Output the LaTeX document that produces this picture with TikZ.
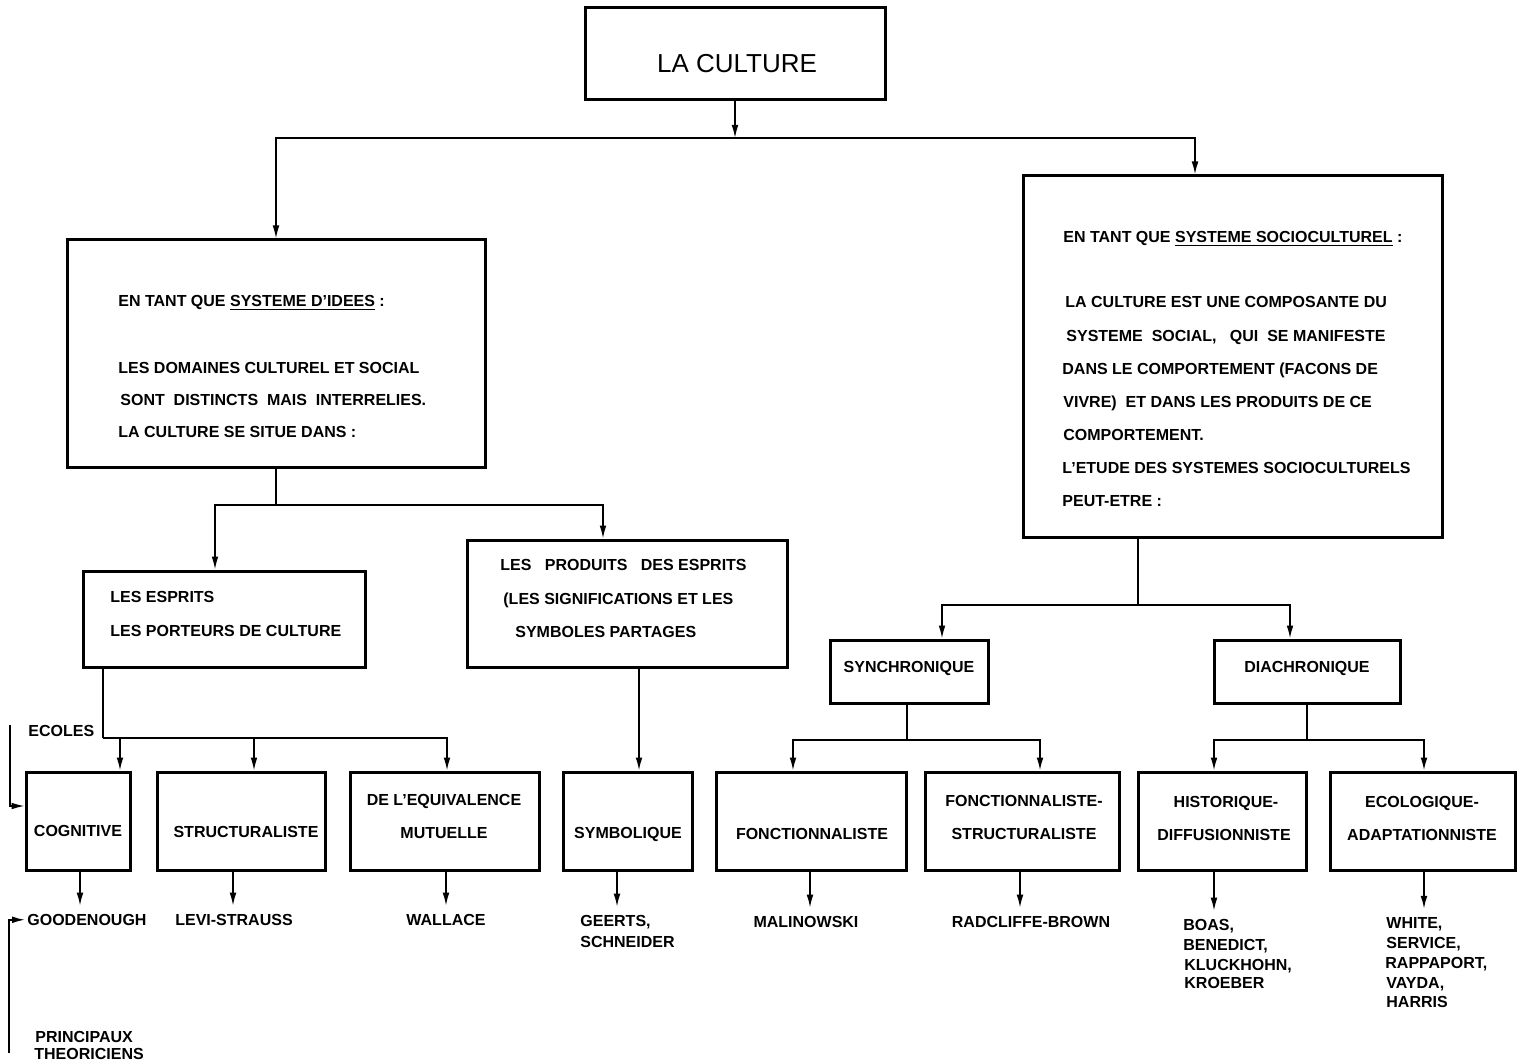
\documentclass[tikz,border=0pt]{standalone}
\usepackage{fontspec}
\setmainfont{Liberation Sans}
\usetikzlibrary{arrows.meta,fit}
\tikzset{
  x=0.5pt, y=-0.5pt,
  box/.style={draw, line width=1.5pt, inner sep=0pt},
  conn/.style={line width=0.8pt},
  arr/.style={conn, -{Latex[length=6.5pt,width=3.4pt]}},
  tl/.style={font=\fontsize{8}{10}\selectfont\bfseries, inner sep=0pt, anchor=mid west},
  tc/.style={font=\fontsize{8}{10}\selectfont\bfseries, inner sep=0pt, anchor=mid},
}
\begin{document}
\begin{tikzpicture}
\useasboundingbox[fill=white] (0,0) rectangle (1522,1064);

% ---------- boxes ----------
\node[box, fit={(585,8) (885,100)}] (culture) {};
\node[box, fit={(67,240) (485,467)}] (idees) {};
\node[box, fit={(1023,176) (1442,537)}] (socio) {};
\node[box, fit={(83,571) (365,667)}] (esprits) {};
\node[box, fit={(467,540) (787,667)}] (produits) {};
\node[box, fit={(830,640) (988,703)}] (synch) {};
\node[box, fit={(1214,640) (1400,703)}] (diach) {};
\node[box, fit={(26,772) (130,870)}] (cog) {};
\node[box, fit={(157,772) (325,870)}] (struct) {};
\node[box, fit={(350,772) (539,870)}] (equiv) {};
\node[box, fit={(563,772) (692,870)}] (symb) {};
\node[box, fit={(716,772) (906,870)}] (fonct) {};
\node[box, fit={(925,772) (1119,870)}] (fstruct) {};
\node[box, fit={(1138,772) (1306,870)}] (hist) {};
\node[box, fit={(1330,772) (1515,870)}] (ecol) {};

% ---------- texts in boxes ----------
\node[font=\fontsize{13}{15}\selectfont, inner sep=0pt, anchor=mid] (tculture) at (737,67) {LA CULTURE};

\node[tl] (i1) at (118,301) {EN TANT QUE \underline{SYSTEME D'IDEES} :};
\node[tl] (i2) at (118,368) {LES DOMAINES CULTUREL ET SOCIAL};
\node[tl] (i3) at (120,400) {SONT\ \ DISTINCTS\ \ MAIS\ \ INTERRELIES.};
\node[tl] (i4) at (118,432) {LA CULTURE SE SITUE DANS :};

\node[tl] (s1) at (1063,237) {EN TANT QUE \underline{SYSTEME SOCIOCULTUREL} :};
\node[tl] (s2) at (1065,302) {LA CULTURE EST UNE COMPOSANTE DU};
\node[tl] (s3) at (1066,336) {SYSTEME\ \ SOCIAL,\ \ \ QUI\ \ SE MANIFESTE};
\node[tl] (s4) at (1062,369) {DANS LE COMPORTEMENT (FACONS DE};
\node[tl] (s5) at (1063,402) {VIVRE)\ \ ET DANS LES PRODUITS DE CE};
\node[tl] (s6) at (1063,435) {COMPORTEMENT.};
\node[tl] (s7) at (1062,468) {L'ETUDE DES SYSTEMES SOCIOCULTURELS};
\node[tl] (s8) at (1062,501) {PEUT-ETRE :};

\node[tl] (e1) at (110,597) {LES ESPRITS};
\node[tl] (e2) at (110,631) {LES PORTEURS DE CULTURE};

\node[tl] (p1) at (500,565) {LES\ \ \ PRODUITS\ \ \ DES ESPRITS};
\node[tl] (p2) at (503,599) {(LES SIGNIFICATIONS ET LES};
\node[tl] (p3) at (515,632) {SYMBOLES PARTAGES};

\node[tc] (tsynch) at (909,667) {SYNCHRONIQUE};
\node[tc] (tdiach) at (1307,667) {DIACHRONIQUE};

\node[tc] (tcog) at (78,831) {COGNITIVE};
\node[tc] (tstruct) at (246,832) {STRUCTURALISTE};
\node[tc] (tequiv1) at (444,800) {DE L'EQUIVALENCE};
\node[tc] (tequiv2) at (444,833) {MUTUELLE};
\node[tc] (tsymb) at (628,833) {SYMBOLIQUE};
\node[tc] (tfonct) at (812,834) {FONCTIONNALISTE};
\node[tc] (tfs1) at (1024,801) {FONCTIONNALISTE-};
\node[tc] (tfs2) at (1024,834) {STRUCTURALISTE};
\node[tc] (thist1) at (1226,802) {HISTORIQUE-};
\node[tc] (thist2) at (1224,835) {DIFFUSIONNISTE};
\node[tc] (tecol1) at (1422,802) {ECOLOGIQUE-};
\node[tc] (tecol2) at (1422,835) {ADAPTATIONNISTE};

% ---------- side labels ----------
\node[tl] (ecoles) at (28,731) {ECOLES};
\node[tl] (princ1) at (35,1037) {PRINCIPAUX};
\node[tl] (princ2) at (34,1054) {THEORICIENS};

% ---------- names ----------
\node[tl] (good) at (27,920) {GOODENOUGH};
\node[tc] (levi) at (234,920) {LEVI-STRAUSS};
\node[tc] (wallace) at (446,920) {WALLACE};
\node[tl] (geerts1) at (580,921) {GEERTS,};
\node[tl] (geerts2) at (580,942) {SCHNEIDER};
\node[tc] (malin) at (806,922) {MALINOWSKI};
\node[tc] (radc) at (1031,922) {RADCLIFFE-BROWN};
\node[tl] (boas1) at (1183,925) {BOAS,};
\node[tl] (boas2) at (1183,945) {BENEDICT,};
\node[tl] (boas3) at (1184,965) {KLUCKHOHN,};
\node[tl] (boas4) at (1184,983) {KROEBER};
\node[tl] (white1) at (1386,923) {WHITE,};
\node[tl] (white2) at (1386,943) {SERVICE,};
\node[tl] (white3) at (1385,963) {RAPPAPORT,};
\node[tl] (white4) at (1386,983) {VAYDA,};
\node[tl] (white5) at (1386,1002) {HARRIS};

% ---------- junctions ----------
\coordinate (h1) at (735,138);
\coordinate (h2) at (276,505);
\coordinate (h3) at (103,738);
\coordinate (h4) at (1138,605);
\coordinate (h5) at (907,740);
\coordinate (h6) at (1307,740);
\coordinate (ecolTop) at (10,725);
\coordinate (princBot) at (9,1053);

% ---------- connectors ----------
\draw[arr] (culture.south) -- (h1);
\draw[arr] (h1) -| (idees.north);
\draw[arr] (h1) -| (socio.north -| 1195,0);

\draw[conn] (idees.south) -- (h2);
\draw[arr] (h2) -| (esprits.north -| 215,0);
\draw[arr] (h2) -| (produits.north -| 603,0);

\draw[conn] (esprits.south -| 103,0) -- (h3);
\draw[arr] (h3) -| (cog.north -| 120,0);
\draw[arr] (h3) -| (struct.north -| 254,0);
\draw[arr] (h3) -| (equiv.north -| 447,0);

\draw[arr] (produits.south -| 639,0) -- (symb.north -| 639,0);

\draw[conn] (socio.south -| 1138,0) -- (h4);
\draw[arr] (h4) -| (synch.north -| 942,0);
\draw[arr] (h4) -| (diach.north -| 1290,0);

\draw[conn] (synch.south -| 907,0) -- (h5);
\draw[arr] (h5) -| (fonct.north -| 793,0);
\draw[arr] (h5) -| (fstruct.north -| 1040,0);

\draw[conn] (diach.south) -- (h6);
\draw[arr] (h6) -| (hist.north -| 1214,0);
\draw[arr] (h6) -| (ecol.north -| 1424,0);

% boxes to names
\draw[arr, shorten >=4pt] (cog.south -| 80,0) -- (good.north -| 80,0);
\draw[arr, shorten >=4pt] (struct.south -| 233,0) -- (levi.north -| 233,0);
\draw[arr, shorten >=4pt] (equiv.south -| 446,0) -- (wallace.north -| 446,0);
\draw[arr, shorten >=4pt] (symb.south -| 617,0) -- (geerts1.north -| 617,0);
\draw[arr, shorten >=4pt] (fonct.south -| 810,0) -- (malin.north -| 810,0);
\draw[arr, shorten >=4pt] (fstruct.south -| 1020,0) -- (radc.north -| 1020,0);
\draw[arr, shorten >=4pt] (hist.south -| 1214,0) -- (boas1.north -| 1214,0);
\draw[arr, shorten >=4pt] (ecol.south -| 1424,0) -- (white1.north -| 1424,0);

% side brackets
\draw[arr] (ecolTop) |- (cog.west |- 0,806);
\draw[arr, shorten >=1pt] (princBot) |- (good.west);
\end{tikzpicture}
\end{document}
